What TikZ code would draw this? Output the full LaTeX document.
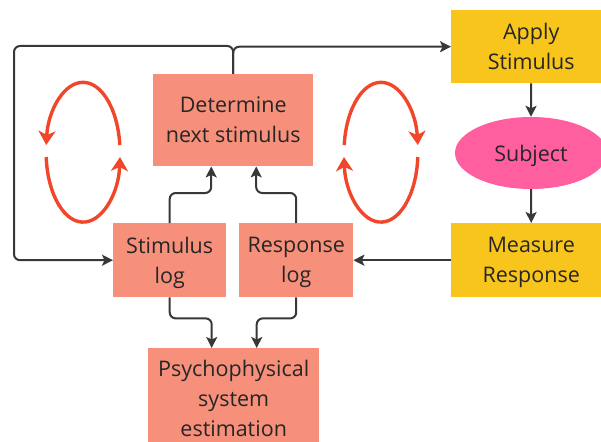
\documentclass[tikz,border=0pt]{standalone}
\usepackage{fontspec}
\setmainfont{Open Sans}
\usetikzlibrary{arrows.meta,shapes.geometric}
\definecolor{salmon}{HTML}{F7907B}
\definecolor{gold}{HTML}{F8C51C}
\definecolor{pinkish}{HTML}{FF5F9E}
\definecolor{loopred}{HTML}{F2462A}
\definecolor{linegray}{HTML}{383838}
\definecolor{txt}{HTML}{262626}
\newcommand\nodesc[1]{\raisebox{0pt}[\height][0pt]{#1}}
\begin{document}
\begin{tikzpicture}[x=1pt,y=-1pt,
  lbl/.style={align=center, text=txt, font=\fontsize{21.5}{30}\selectfont, inner sep=0pt, anchor=north west},
  sbox/.style={lbl, fill=salmon},
  ybox/.style={lbl, fill=gold},
  conn/.style={draw=linegray, line width=2pt, rounded corners=6pt, -{Stealth[length=11pt,width=11pt,inset=2.5pt]}},
  loopa/.style={draw=loopred, line width=3.4pt, -{Stealth[length=14pt,width=17pt,inset=4pt]}}
]
\useasboundingbox (0,0) rectangle (601,441);
\fill[white] (0,0) rectangle (601,441);

\node[sbox, minimum width=160pt, minimum height=92pt] (det) at (153,74) {Determine\\next stimulus};
\node[sbox, minimum width=113pt, minimum height=74pt] (stim) at (113,223) {Stimulus\\\nodesc{log}};
\node[sbox, minimum width=114pt, minimum height=74pt] (resp) at (239,223) {Response\\\nodesc{log}};
\node[sbox, minimum width=171pt, minimum height=100pt] (psy) at (148,348) {Psychophysical\\system\\estimation};
\node[ybox, minimum width=160pt, minimum height=73pt] (apply) at (451,10) {Apply\\Stimulus};
\node[ellipse, fill=pinkish, text=txt, font=\fontsize{21.5}{30}\selectfont, inner sep=0pt, minimum width=152pt, minimum height=72pt] (subj) at (531,153) {\nodesc{Subject}};
\node[ybox, minimum width=160pt, minimum height=74pt] (meas) at (451,223) {Measure\\\nodesc{Response}};

\coordinate (lc) at (14,46);

\draw[conn] (det.north) |- (apply.west);
\draw[conn] (det.north) |- (lc) |- (stim.west);
\draw[conn] (apply.south) -- (subj.north);
\draw[conn] (subj.south) -- (meas.north);
\draw[conn] (meas.west) -- (resp.east);
\draw[conn] (stim.north) -- ++(0,-30) -| ([xshift=-22pt]det.south);
\draw[conn] (resp.north) -- ++(0,-30) -| ([xshift=23pt]det.south);
\draw[conn] (stim.south) -- ++(0,21) -| ([xshift=-22pt]psy.north);
\draw[conn] (resp.south) -- ++(0,21) -| ([xshift=23pt]psy.north);

% left loop
\draw[loopa] (119.8,145) arc[start angle=6, end angle=174, x radius=37pt, y radius=70pt];
\draw[loopa] (46.2,157) arc[start angle=184, end angle=356, x radius=37pt, y radius=70pt];
% right loop
\draw[loopa] (344.2,145) arc[start angle=174, end angle=6, x radius=37pt, y radius=70pt];
\draw[loopa] (417.8,157) arc[start angle=-4, end angle=-176, x radius=37pt, y radius=70pt];
\end{tikzpicture}
\end{document}
